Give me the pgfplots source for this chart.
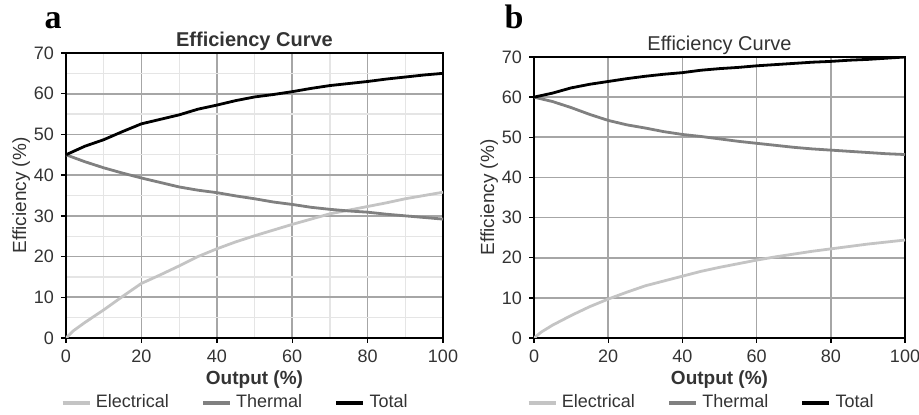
\documentclass[border=0pt]{standalone}
\usepackage{fontspec}
\setmainfont{Liberation Sans}
\newfontfamily\panelfont{Liberation Serif}
\usepackage{pgfplots}
\pgfplotsset{compat=1.18}
\definecolor{elec}{HTML}{C4C4C4}
\definecolor{therm}{HTML}{808080}
\definecolor{txt}{HTML}{333333}

\pgfplotsset{
  effaxis/.style={
    scale only axis,
    anchor=south west,
    xmin=0, xmax=100, ymin=0, ymax=70,
    xtick={0,20,...,100}, ytick={0,10,...,70},
    xtick pos=left, ytick pos=left,
    tick align=outside,
    major tick length=2.5pt,
    tick style={black, line width=0.7pt},
    axis line style={black, line width=1pt},
    grid=major,
    major grid style={color=black!35, line width=0.8pt},
    /pgf/number format/assume math mode=true,
    ticklabel style={font=\fontsize{9}{10}\selectfont, text=txt},
    label style={font=\fontsize{9.5}{11}\selectfont\bfseries, text=txt},
    xlabel={Output (\%)},
    ylabel={Efficiency (\%)},
    xlabel style={yshift=3pt},
    ylabel style={font=\fontsize{9.5}{11}\selectfont, text=txt, yshift=-5pt},
    title style={at={(0.5,1)}, anchor=base, yshift=-3pt, text=txt},
    legend columns=3,
    legend style={draw=none, fill=none, anchor=center,
      font=\fontsize{9}{10}\selectfont, text=txt,
      /tikz/every even column/.append style={column sep=14pt}},
    legend image code/.code={\draw[#1, line width=2.2pt] (0pt,0pt) -- (13.5pt,0pt);},
    every axis plot/.append style={line width=1.4pt},
  }
}

\begin{document}
\begin{tikzpicture}
\useasboundingbox (0,0) rectangle (459.5pt,207.5pt);

\node[anchor=base] at (26.5pt,193pt) {\panelfont\bfseries\fontsize{17}{18}\selectfont a};
\node[anchor=base] at (257pt,193pt) {\panelfont\bfseries\fontsize{17}{18}\selectfont b};

\begin{axis}[effaxis,
  at={(33pt,38.5pt)}, width=188.5pt, height=142.5pt,
  minor x tick num=1, minor y tick num=1,
  minor tick length=0pt,
  grid=both,
  minor grid style={color=black!10, line width=0.6pt},
  title={Efficiency Curve},
  title style={font=\fontsize{10}{12}\selectfont\bfseries},
  legend style={at={(axis description cs:0.451,-0.228)}},
]
\addplot[elec] coordinates {(0,0)(2,1.8)(5,3.8)(10,6.9)(15,10.2)(20,13.4)(25,15.5)(30,17.7)(35,20)(40,21.9)(45,23.6)(50,25.1)(55,26.5)(60,27.9)(65,29.2)(70,30.5)(75,31.4)(80,32.3)(85,33.2)(90,34.2)(95,35)(100,35.8)};
\addlegendentry{Electrical}
\addplot[therm] coordinates {(0,45)(5,43.3)(10,41.8)(15,40.5)(20,39.3)(25,38.2)(30,37.1)(35,36.3)(40,35.7)(45,34.9)(50,34.2)(55,33.4)(60,32.8)(65,32.1)(70,31.6)(75,31.2)(80,30.9)(85,30.4)(90,30)(95,29.6)(100,29.2)};
\addlegendentry{Thermal}
\addplot[black] coordinates {(0,45)(5,47.1)(10,48.7)(15,50.7)(20,52.6)(25,53.7)(30,54.8)(35,56.2)(40,57.2)(45,58.3)(50,59.2)(55,59.8)(60,60.5)(65,61.3)(70,62)(75,62.5)(80,63)(85,63.6)(90,64.1)(95,64.6)(100,65)};
\addlegendentry{Total}
\end{axis}

\begin{axis}[effaxis,
  at={(267pt,38.5pt)}, width=185.5pt, height=140.5pt,
  title={Efficiency Curve},
  title style={font=\fontsize{10}{12}\selectfont},
  legend style={at={(axis description cs:0.453,-0.231)}},
]
\addplot[elec] coordinates {(0,0)(2,1.5)(5,3.2)(10,5.6)(15,7.8)(20,9.7)(25,11.4)(30,13)(35,14.2)(40,15.4)(45,16.6)(50,17.6)(55,18.5)(60,19.4)(65,20.2)(70,20.9)(75,21.6)(80,22.2)(85,22.8)(90,23.4)(95,23.9)(100,24.4)};
\addlegendentry{Electrical}
\addplot[therm] coordinates {(0,60)(5,58.9)(10,57.4)(15,55.7)(20,54.2)(25,53.1)(30,52.3)(35,51.4)(40,50.7)(45,50.2)(50,49.6)(55,49)(60,48.5)(65,48)(70,47.5)(75,47.1)(80,46.8)(85,46.5)(90,46.2)(95,45.9)(100,45.7)};
\addlegendentry{Thermal}
\addplot[black] coordinates {(0,60)(5,61)(10,62.3)(15,63.2)(20,63.9)(25,64.6)(30,65.2)(35,65.7)(40,66.1)(45,66.7)(50,67.1)(55,67.4)(60,67.8)(65,68.1)(70,68.4)(75,68.7)(80,68.9)(85,69.2)(90,69.4)(95,69.7)(100,70)};
\addlegendentry{Total}
\end{axis}
\end{tikzpicture}
\end{document}
